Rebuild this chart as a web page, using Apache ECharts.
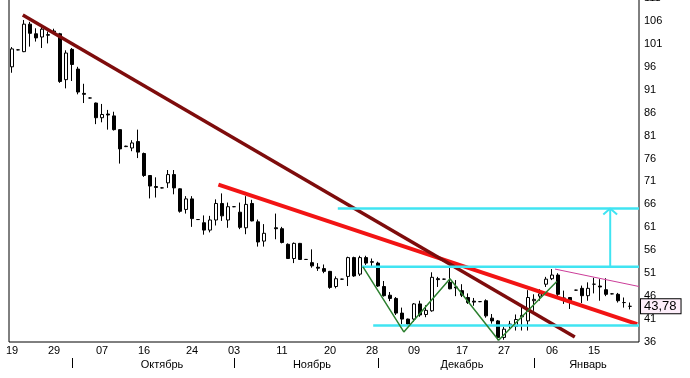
<!DOCTYPE html>
<html>
<head>
<meta charset="utf-8">
<script src="https://cdn.jsdelivr.net/npm/echarts@6/dist/echarts.min.js"></script>
<style>
  html, body { margin: 0; padding: 0; background: #fff; }
  #chart { width: 690px; height: 378px; }
</style>
</head>
<body>
<div id="chart"></div>
<script>
// [open, close, low, high] per session
const candles = [
  [96.0, 99.9, 94.7, 100.3], [99.7, 99.7, 99.6, 99.8], [99.3, 105.3, 99.2, 106.2], [105.3, 103.3, 100.4, 105.8],
  [103.2, 102.3, 101.5, 104.4], [102.5, 104.2, 100.1, 104.8], [103.0, 102.9, 101.1, 103.7], [103.6, 103.8, 103.2, 104.3],
  [103.2, 92.8, 92.5, 103.4], [93.2, 99.0, 91.3, 99.6], [99.8, 96.5, 92.9, 100.1], [95.5, 90.5, 90.0, 96.0],
  [90.2, 90.0, 88.1, 92.3], [89.2, 89.2, 89.1, 89.3], [88.1, 84.9, 83.5, 88.2], [84.9, 85.6, 83.9, 87.9],
  [85.7, 85.5, 82.3, 86.6], [85.3, 82.3, 82.1, 86.2], [82.3, 78.1, 74.9, 82.4], [78.6, 78.7, 78.5, 78.8],
  [78.3, 79.4, 77.6, 80.0], [79.7, 77.4, 76.1, 82.3], [77.1, 72.3, 72.0, 77.3], [72.3, 70.0, 67.3, 72.4],
  [69.9, 69.7, 67.5, 71.9], [69.6, 69.6, 69.5, 69.7], [70.7, 72.5, 69.6, 73.5], [72.5, 69.6, 68.2, 73.5],
  [69.4, 64.5, 64.2, 69.5], [64.9, 67.2, 64.0, 67.8], [67.2, 62.9, 61.1, 67.8], [62.7, 62.7, 62.6, 62.8],
  [62.0, 60.4, 59.4, 63.6], [60.4, 62.6, 59.9, 63.5], [62.6, 66.2, 61.4, 67.1], [66.2, 63.5, 62.4, 68.4],
  [62.6, 65.5, 60.9, 66.4], [65.5, 65.5, 65.4, 65.6], [64.3, 61.0, 60.6, 66.4], [60.9, 66.0, 59.5, 67.8],
  [66.2, 62.4, 62.3, 67.0], [62.2, 57.8, 56.8, 62.7], [58.0, 59.7, 56.8, 61.7], '-',
  [60.9, 60.7, 58.4, 64.0], [60.7, 57.7, 57.5, 61.1], [57.3, 54.2, 54.1, 57.5], [54.2, 57.5, 53.2, 57.7],
  [57.5, 54.0, 53.9, 57.6], [54.0, 54.0, 53.9, 54.1], [53.3, 52.6, 52.2, 56.2], [52.3, 52.1, 51.5, 53.2],
  [52.0, 51.4, 51.0, 52.9], [51.4, 47.9, 47.6, 51.5], [48.1, 49.8, 47.7, 50.3], [49.7, 49.7, 49.6, 49.8],
  [50.3, 54.4, 48.2, 54.6], [54.4, 50.4, 50.2, 54.6], [50.8, 54.4, 50.4, 54.8], [54.4, 53.2, 52.8, 54.8],
  [53.5, 53.4, 52.5, 54.2], [53.2, 48.2, 48.0, 53.5], [48.1, 46.1, 45.9, 49.3], [46.2, 45.5, 44.9, 46.9],
  [45.5, 42.3, 41.9, 45.8], [42.3, 41.0, 39.9, 43.5], [41.0, 39.9, 39.6, 41.1], [41.0, 44.3, 40.4, 44.5],
  [44.3, 41.9, 41.5, 45.0], [42.0, 42.9, 41.4, 44.0], [42.8, 50.1, 42.6, 51.2], [49.8, 49.6, 48.0, 50.2],
  [49.7, 49.7, 49.6, 49.8], [49.0, 47.6, 47.5, 52.6], [48.0, 47.8, 46.0, 49.5], [47.2, 46.2, 45.8, 48.6],
  [45.7, 44.6, 44.3, 46.6], [44.9, 44.7, 43.9, 45.6], [44.8, 44.8, 44.7, 44.9], [45.0, 41.7, 41.3, 45.3],
  [41.2, 40.6, 40.0, 42.1], [40.6, 37.0, 36.4, 40.8], [37.0, 38.8, 36.5, 39.3], [39.6, 39.9, 38.9, 40.6],
  [39.4, 40.9, 38.5, 42.0], [41.5, 41.8, 38.5, 44.0], [40.6, 45.7, 38.5, 47.3], [45.0, 45.3, 42.8, 46.4],
  [46.0, 46.5, 45.0, 47.5], [48.6, 49.7, 48.0, 50.2], [49.8, 50.6, 49.5, 51.9], [50.6, 46.4, 45.6, 51.0],
  [45.6, 45.5, 44.3, 47.2], [45.7, 45.0, 43.2, 45.8], [47.3, 47.3, 47.2, 47.4], [47.7, 46.1, 44.5, 48.3],
  [46.1, 47.7, 45.0, 49.0], [48.6, 48.6, 46.6, 50.0], [48.2, 48.0, 45.0, 49.7], [47.4, 46.4, 46.0, 49.9],
  [46.5, 46.5, 46.4, 46.6], [46.4, 45.0, 44.6, 46.7], [44.6, 44.6, 43.5, 45.7], [43.78, 43.78, 43.1, 44.6]
];
const slots = 105;
const lastPrice = 43.78;

const dayLabels = ['19', '29', '07', '16', '24', '03', '11', '20', '28', '09', '17', '27', '06', '15'];
const dayIdx = [0, 7, 15, 22, 30, 37, 45, 53, 60, 67, 75, 82, 90, 97];
const monthLabels = ['Октябрь', 'Ноябрь', 'Декабрь', 'Январь'];
const monthIdx = [25, 50, 75, 96];
const monthSep = [10, 37, 61, 87];

const yTicks = { min: 36, max: 111, step: 5 };

// drawn studies, [session index, price]
const brownTrend = [[1.8, 107.3], [93.8, 37.1]];
const redTrend = [[34.4, 70.3], [104.2, 39.9]];
const pinkTrend = [[90.5, 51.9], [104.5, 48.1]];
const targetLine = [[54.3, 65.1], [104.5, 65.1]];
const neckLine = [[58.3, 52.4], [104.5, 52.4]];
const supportLine = [[60.2, 39.6], [104.5, 39.6]];
const arrowShaft = [[99.7, 52.4], [99.7, 65.1]];
const arrowHead = [[98.55, 63.8], [99.7, 65.1], [100.85, 63.8]];
const zigzag = [[58.5, 52.4], [65.3, 38.2], [73, 49.8], [81.1, 36.4], [90.8, 49.2]];

const cats = Array.from({ length: slots }, (_, i) => String(i));
const font = 'Liberation Sans, Arial, sans-serif';
const cyan = '#40e4f2';

function overlay(data, color, width) {
  return {
    type: 'line', xAxisIndex: 2, data: data, symbol: 'none', silent: true,
    lineStyle: { color: color, width: width }, animation: false
  };
}

const chart = echarts.init(document.getElementById('chart'));
chart.setOption({
  animation: false,
  backgroundColor: '#fff',
  grid: {
    left: 9, right: 51, top: -2, bottom: 36,
    containLabel: false, outerBoundsMode: 'none',
    show: true, borderColor: '#000', borderWidth: 1
  },
  xAxis: [
    {
      type: 'category', data: cats, boundaryGap: true,
      axisLine: { show: false }, axisTick: { show: false }, splitLine: { show: false },
      axisLabel: {
        interval: (i) => dayIdx.includes(i),
        formatter: (v) => { const k = dayIdx.indexOf(+v); return k < 0 ? '' : dayLabels[k]; },
        color: '#000', fontSize: 11, fontFamily: font, margin: 3
      }
    },
    {
      type: 'category', data: cats, boundaryGap: true, position: 'bottom', offset: 16,
      axisLine: { show: false }, splitLine: { show: false },
      axisTick: {
        show: true, alignWithLabel: true, length: 10,
        interval: (i) => monthSep.includes(i),
        lineStyle: { color: '#000', width: 1 }
      },
      axisLabel: {
        interval: (i) => monthIdx.includes(i),
        formatter: (v) => { const k = monthIdx.indexOf(+v); return k < 0 ? '' : monthLabels[k]; },
        color: '#000', fontSize: 11, fontFamily: font, margin: 1
      }
    },
    { type: 'value', min: -0.5, max: slots - 0.5, show: false }
  ],
  yAxis: {
    type: 'value', position: 'right', min: yTicks.min, max: yTicks.max, interval: yTicks.step,
    axisLine: { show: false }, axisTick: { show: false }, splitLine: { show: false },
    axisLabel: { color: '#000', fontSize: 11, fontFamily: font, margin: 5 }
  },
  series: [
    {
      type: 'candlestick', xAxisIndex: 0, data: candles, barWidth: 4,
      itemStyle: { color: '#fff', color0: '#000', borderColor: '#000', borderColor0: '#000', borderWidth: 1 },
      markLine: {
        symbol: 'none', silent: true,
        lineStyle: { color: 'transparent', width: 0 },
        label: {
          position: 'end', formatter: '43,78', distance: 2,
          color: '#000', fontSize: 13, fontFamily: font,
          backgroundColor: '#fdeefa', borderColor: '#000', borderWidth: 1, padding: [1, 4, 0, 3]
        },
        data: [{ yAxis: lastPrice }]
      }
    },
    overlay(redTrend, '#f21414', 4),
    overlay(brownTrend, '#7e0c0c', 3.5),
    overlay(pinkTrend, '#cc3d99', 1),
    overlay(targetLine, cyan, 2.5),
    overlay(neckLine, cyan, 2.5),
    overlay(supportLine, cyan, 2.5),
    overlay(arrowShaft, cyan, 2),
    overlay(arrowHead, cyan, 2),
    overlay(zigzag, '#2d8030', 1.5)
  ]
});
</script>
</body>
</html>
